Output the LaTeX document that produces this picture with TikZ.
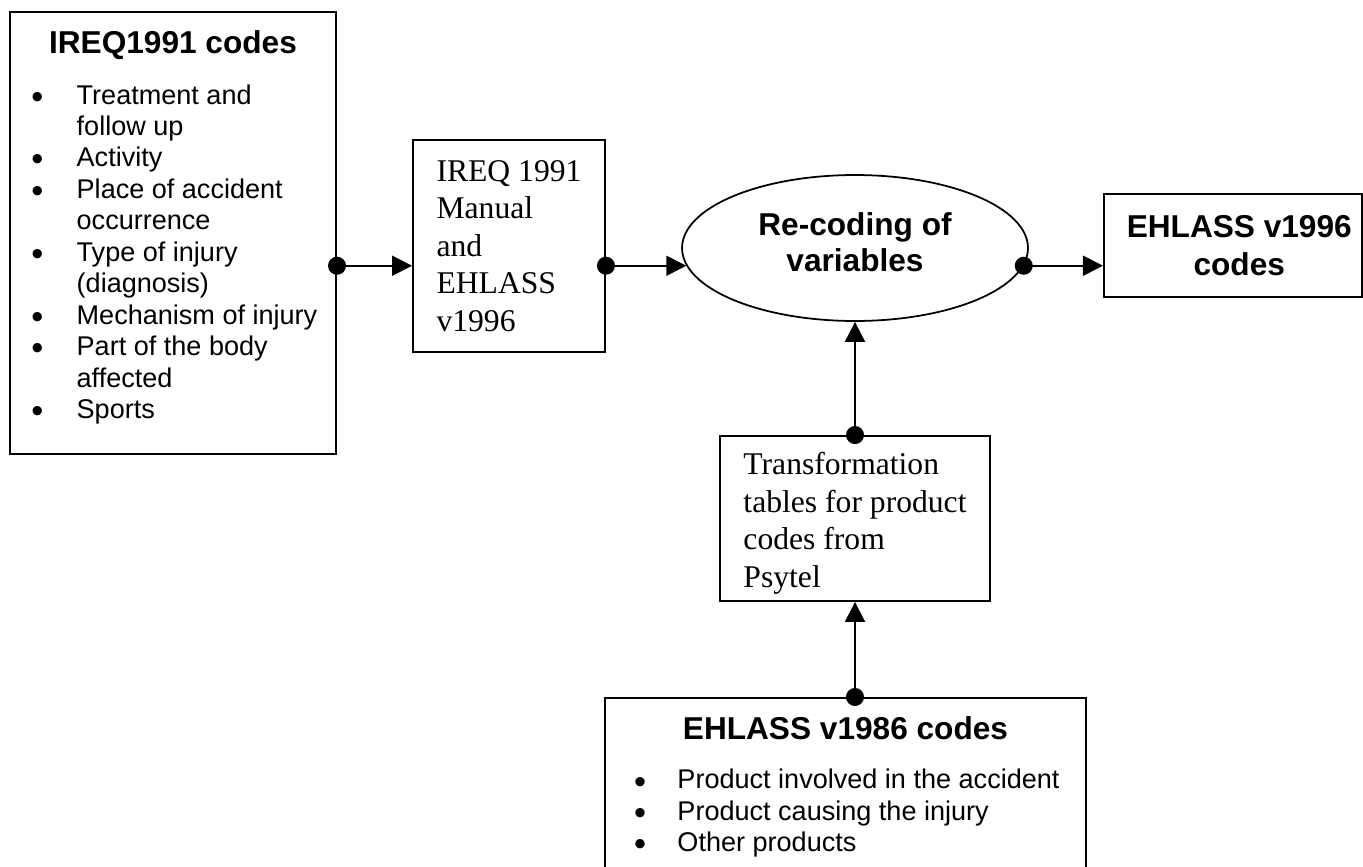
\documentclass[tikz,border=0pt]{standalone}
\usepackage{fontspec}
\setmainfont{Liberation Serif}
\setsansfont{Liberation Sans}
\usepackage{array}
\usetikzlibrary{shapes.geometric, arrows.meta, positioning, calc}
\newcommand{\listfont}{\fontsize{15.4}{17.9}\selectfont}
\newcommand{\headfont}{\bfseries\fontsize{18}{21.6}\selectfont}
\newcommand{\blt}{\hspace*{1.5pt}\raisebox{-2.3pt}{\fontsize{19.5}{19.5}\selectfont\textbullet}}
\tikzset{
  codebox/.style={
    rectangle, draw=black, line width=1.2pt, fill=white,
    align=center, inner sep=0pt, font=\sffamily
  },
  notebox/.style={
    rectangle, draw=black, line width=1.1pt, fill=white,
    align=left, inner sep=0pt, font=\rmfamily\fontsize{18}{21.3}\selectfont
  },
  procnode/.style={
    ellipse, draw=black, line width=1pt, inner sep=0pt,
    align=center, font=\sffamily\bfseries\fontsize{18}{20.5}\selectfont
  },
  link/.style={{Circle[length=0.36cm]}-{Triangle[length=0.4cm, width=0.4cm]},
    line width=1.05pt, draw=black, shorten <=-0.18cm}
}

\begin{document}
\begin{tikzpicture}[x=0.02cm, y=-0.02cm]
\useasboundingbox (0,0) rectangle (1363,866);
\clip (0,0) rectangle (1363,866);

\node[codebox, minimum width=6.52cm, minimum height=8.84cm] (ireq) at (173,233)
  {\listfont
   \begin{tabular}{@{}p{0.96cm}@{}l@{}}
   \multicolumn{2}{c}{\headfont IREQ1991 codes}\\[10.6pt]
   \blt & Treatment and\\
        & follow up\\
   \blt & Activity\\
   \blt & Place of accident\\
        & occurrence\\
   \blt & Type of injury\\
        & (diagnosis)\\
   \blt & Mechanism of injury\\
   \blt & Part of the body\\
        & affected\\
   \blt & Sports\\[4pt]
   \end{tabular}};
\node[notebox, minimum width=3.84cm, minimum height=4.24cm] (manual) at (509,246)
  {IREQ 1991\\Manual\\and\\EHLASS\\v1996};
\node[procnode, minimum width=6.92cm, minimum height=2.92cm] (recode) at (855,248)
  {Re-coding of\\\raisebox{0pt}[\height][6.8pt]{variables}};
\node[codebox, font=\sffamily\headfont, minimum width=5.16cm, minimum height=2.06cm] (out) at (1233,245.5)
  {\hspace*{0.25cm}EHLASS v1996\\\hspace*{0.25cm}codes};
\node[notebox, minimum width=5.4cm, minimum height=3.3cm] (trans) at (855,518.5)
  {\raisebox{0pt}[18pt][0pt]{Transformation}\\tables for product\\codes from\\Psytel};
\node[codebox, anchor=north, minimum width=9.62cm, inner ysep=0.38cm] (ehl86) at (845.5,697)
  {\listfont
   \begin{tabular}{@{}p{0.92cm}@{}l@{}}
   \multicolumn{2}{c}{\headfont EHLASS v1986 codes}\\[10pt]
   \blt & Product involved in the accident\\
   \blt & Product causing the injury\\
   \blt & Other products
   \end{tabular}};

\draw[link] (ireq.east |- recode.186) -- (manual.west |- recode.186);
\draw[link] (manual.east |- recode.186) -- (recode.186);
\draw[link] (recode.354) -- (out.west |- recode.354);
\draw[link] (trans.north) -- (recode.south);
\draw[link] (trans.south |- ehl86.north) -- (trans.south);

\end{tikzpicture}
\end{document}
